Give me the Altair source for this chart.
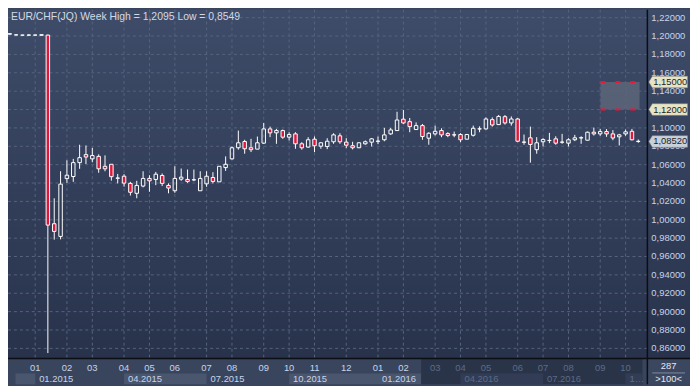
import altair as alt
import pandas as pd

W, H = 645, 352
RP, BP = 43, 26
F = "Liberation Sans"
RED = "#e0163c"
LBL = "#c6d4ec"
DIM = "#5c6b86"
GRID = "#56637d"

opens = [1.2020, 1.2013, 1.2010, 1.2011, 1.2010, 1.2008, 1.2010, 0.9957, 0.9819, 1.0448,
         1.0471, 1.0622, 1.0709, 1.0663, 1.0690, 1.0582, 1.0604, 1.0455, 1.0474, 1.0396,
         1.0288, 1.0367, 1.0450, 1.0439, 1.0482, 1.0374, 1.0316, 1.0442, 1.0439, 1.0436,
         1.0316, 1.0391, 1.0460, 1.0413, 1.0568, 1.0663, 1.0784, 1.0852, 1.0784, 1.0769,
         1.0834, 1.0989, 1.0946, 1.0971, 1.0899, 1.0935, 1.0827, 1.0791, 1.0877, 1.0801,
         1.0798, 1.0849, 1.0914, 1.0845, 1.0806, 1.0784, 1.0827, 1.0845, 1.0856, 1.0871,
         1.0935, 1.0971, 1.1095, 1.1068, 1.0982, 1.1025, 1.0888, 1.0935, 1.0971, 1.0938,
         1.0925, 1.0928, 1.0877, 1.0920, 1.0990, 1.0989, 1.1090, 1.1036, 1.1122, 1.1054,
         1.1097, 1.0846, 1.0892, 1.0763, 1.0849, 1.0864, 1.0881, 1.0846, 1.0834, 1.0871,
         1.0893, 1.0866, 1.0953, 1.0935, 1.0960, 1.0935, 1.0903, 1.0935, 1.0963, 1.0855]
highs = [1.2030, 1.2020, 1.2013, 1.2018, 1.2013, 1.2017, 1.2015, 1.0234, 1.0528, 1.0647,
         1.0663, 1.0817, 1.0809, 1.0782, 1.0712, 1.0701, 1.0604, 1.0499, 1.0496, 1.0413,
         1.0424, 1.0528, 1.0485, 1.0521, 1.0504, 1.0396, 1.0582, 1.0558, 1.0547, 1.0547,
         1.0528, 1.0528, 1.0518, 1.0582, 1.0690, 1.0798, 1.0971, 1.0871, 1.0881, 1.0906,
         1.1054, 1.1014, 1.0989, 1.0982, 1.0953, 1.0953, 1.0845, 1.0899, 1.0906, 1.0845,
         1.0888, 1.0942, 1.0942, 1.0888, 1.0849, 1.0845, 1.0863, 1.0888, 1.0906, 1.1000,
         1.1000, 1.1176, 1.1195, 1.1108, 1.1060, 1.1043, 1.0953, 1.1025, 1.0996, 1.0953,
         1.0960, 1.0942, 1.0935, 1.1025, 1.1017, 1.1114, 1.1114, 1.1140, 1.1140, 1.1125,
         1.1108, 1.0928, 1.1014, 1.0899, 1.0888, 1.0946, 1.0909, 1.0935, 1.0888, 1.0924,
         1.0909, 1.0960, 1.1003, 1.0989, 1.0987, 1.0976, 1.0935, 1.0982, 1.0989, 1.0874]
lows = [1.2016, 1.2007, 1.2008, 1.2005, 1.2008, 1.2006, 0.8549, 0.9784, 0.9787, 1.0402,
        1.0413, 1.0555, 1.0607, 1.0626, 1.0512, 1.0528, 1.0426, 1.0396, 1.0361, 1.0264,
        1.0234, 1.0353, 1.0305, 1.0377, 1.0367, 1.0288, 1.0294, 1.0424, 1.0402, 1.0420,
        1.0316, 1.0359, 1.0396, 1.0413, 1.0532, 1.0655, 1.0763, 1.0719, 1.0737, 1.0769,
        1.0827, 1.0899, 1.0827, 1.0881, 1.0863, 1.0773, 1.0763, 1.0784, 1.0737, 1.0773,
        1.0769, 1.0827, 1.0827, 1.0780, 1.0766, 1.0780, 1.0817, 1.0798, 1.0823, 1.0855,
        1.0924, 1.0971, 1.1043, 1.0953, 1.0978, 1.0871, 1.0817, 1.0917, 1.0899, 1.0899,
        1.0899, 1.0845, 1.0877, 1.0906, 1.0953, 1.0982, 1.1014, 1.1032, 1.1036, 1.1025,
        1.0845, 1.0817, 1.0622, 1.0719, 1.0798, 1.0834, 1.0817, 1.0827, 1.0798, 1.0856,
        1.0827, 1.0863, 1.0917, 1.0914, 1.0903, 1.0866, 1.0809, 1.0914, 1.0863, 1.0838]
closes = [1.2026, 1.2012, 1.2010, 1.2010, 1.2011, 1.2015, 0.9942, 0.9873, 1.0388, 1.0485,
          1.0622, 1.0676, 1.0683, 1.0699, 1.0555, 1.0555, 1.0469, 1.0452, 1.0399, 1.0299,
          1.0374, 1.0450, 1.0424, 1.0496, 1.0396, 1.0345, 1.0450, 1.0464, 1.0417, 1.0434,
          1.0450, 1.0474, 1.0417, 1.0582, 1.0604, 1.0784, 1.0838, 1.0773, 1.0763, 1.0838,
          1.0989, 1.0946, 1.0971, 1.0899, 1.0928, 1.0827, 1.0784, 1.0871, 1.0806, 1.0838,
          1.0855, 1.0924, 1.0849, 1.0812, 1.0784, 1.0838, 1.0849, 1.0881, 1.0854, 1.0924,
          1.0978, 1.1086, 1.1054, 1.1014, 1.1025, 1.0906, 1.0942, 1.0963, 1.0924, 1.0917,
          1.0923, 1.0871, 1.0928, 1.0996, 1.0988, 1.1097, 1.1032, 1.1125, 1.1054, 1.1097,
          1.0855, 1.0844, 1.0820, 1.0838, 1.0874, 1.0862, 1.0834, 1.0844, 1.0871, 1.0892,
          1.0891, 1.0953, 1.0935, 1.0960, 1.0935, 1.0890, 1.0924, 1.0957, 1.0871, 1.0852]

month_idx = [4, 9, 13, 18, 22, 26, 31, 35, 40, 44, 48, 53, 58, 62, 67, 71, 75, 80, 84, 88, 93, 97]
month_lbl = ["01", "02", "03", "04", "05", "06", "07", "08", "09", "10", "11", "12",
             "01", "02", "03", "04", "05", "06", "07", "08", "09", "10"]
quarter_idx = [4, 18, 31, 44, 58, 71, 84]
quarter_lbl = ["01.2015", "04.2015", "07.2015", "10.2015", "01.2016", "04.2016", "07.2016"]
last_quarter_idx = [97]
last_quarter_lbl = ["10.2016"]
y_ticks = [0.86, 0.88, 0.90, 0.92, 0.94, 0.96, 0.98, 1.00, 1.02, 1.04,
           1.06, 1.08, 1.10, 1.12, 1.14, 1.16, 1.18, 1.20, 1.22]
y_tick_lbl = ["0,86000", "0,88000", "0,90000", "0,92000", "0,94000", "0,96000", "0,98000",
              "1,00000", "1,02000", "1,04000", "1,06000", "1,08000", "1,10000", "1,12000",
              "1,14000", "1,16000", "1,18000", "1,20000", "1,22000"]
light_box_start = [0.9, 18, 44, 58]
light_box_end = [4, 31, 58, 64.8]
dark_start, dark_end = [64.8], [99.65]
dim_box_start = [71, 97]
dim_box_end = [84, 99.65]
zone_x = [93.05, 99.2]
zone_y = [1.12, 1.15]
tag_vals = [1.15, 1.12, 1.0852]
tag_lbl = ["1,15000", "1,12000", "1,08520"]
tag_col = ["#e7e4c6", "#e7e4c6", "#c8d0da"]
title_txt = "EUR/CHF(JQ) Week High = 1,2095 Low = 0,8549"

xs = alt.Scale(domain=[0.5, 99.65], nice=False, zero=False)
ys = alt.Scale(domain=[0.84889, 1.22874], nice=False, zero=False)


def X(f):
    return alt.X(f, type="quantitative", scale=xs, axis=None)


def Y(f):
    return alt.Y(f, type="quantitative", scale=ys, axis=None)


one = pd.DataFrame({"a": [0]})
df = pd.DataFrame({"i": list(range(len(opens))), "o": opens, "h": highs, "l": lows, "c": closes})

grad = alt.LinearGradient(gradient="linear",
                          stops=[alt.GradientStop(color="#3e4c69", offset=0),
                                 alt.GradientStop(color="#28324b", offset=1)],
                          x1=0, x2=0, y1=0, y2=1)
bg = alt.Chart(one).mark_rect(fill=grad).encode(
    x=alt.value(0), x2=alt.value(W + RP), y=alt.value(0), y2=alt.value(H))

light = alt.Chart(pd.DataFrame({"a": light_box_start, "b": light_box_end})).mark_rect(
    fill="#4a566d").encode(x=X("a"), x2="b:Q", y=alt.value(H + 15), y2=alt.value(H + BP))
dark = alt.Chart(pd.DataFrame({"a": dark_start, "b": dark_end})).mark_rect(
    fill="#2a3449").encode(x=X("a"), x2="b:Q", y=alt.value(H), y2=alt.value(H + BP))
dimb = alt.Chart(pd.DataFrame({"a": dim_box_start, "b": dim_box_end})).mark_rect(
    fill="#323d55").encode(x=X("a"), x2="b:Q", y=alt.value(H + 15), y2=alt.value(H + BP))

hgrid = alt.Chart(pd.DataFrame({"v": y_ticks})).mark_rule(
    color=GRID, strokeDash=[3, 3], strokeWidth=1).encode(y=Y("v"))
vgrid = alt.Chart(pd.DataFrame({"i": month_idx})).mark_rule(
    color=GRID, strokeDash=[3, 3], strokeWidth=1).encode(x=X("i"))

zdf = pd.DataFrame({"a": [zone_x[0]], "b": [zone_x[1]], "y0": [zone_y[0]], "y1": [zone_y[1]]})
zone = alt.Chart(zdf).mark_rect(fill="#5b6479", opacity=0.9).encode(
    x=X("a"), x2="b:Q", y=Y("y0"), y2="y1:Q")
zl = pd.DataFrame({"a": [zone_x[0]] * 2, "b": [zone_x[1]] * 2, "v": zone_y})
zlines = alt.Chart(zl).mark_rule(color="#ee1432", strokeDash=[5, 10], strokeWidth=2).encode(
    x=X("a"), x2="b:Q", y=Y("v"))

cb = alt.Chart(df).transform_calculate(
    top="max(datum.o, datum.c)", bot="min(datum.o, datum.c)", up="datum.c >= datum.o")
uw = cb.mark_rule(color="white", strokeWidth=1).encode(x=X("i"), y=Y("h"), y2="top:Q")
lw = cb.mark_rule(color="white", strokeWidth=1).encode(x=X("i"), y=Y("bot"), y2="l:Q")
body = cb.mark_bar(size=3.5, stroke="white", strokeWidth=1).encode(
    x=X("i"), y=Y("bot"), y2="top:Q",
    fill=alt.condition("datum.up", alt.value("transparent"), alt.value(RED)))

mlab = alt.Chart(pd.DataFrame({"i": month_idx, "t": month_lbl})).mark_text(
    font=F, fontSize=9.5, baseline="middle", align="center").encode(
    x=X("i"), y=alt.value(H + 9.5), text="t:N",
    color=alt.condition(alt.datum.i > 64.8, alt.value(DIM), alt.value(LBL)))
qlab = alt.Chart(pd.DataFrame({"i": quarter_idx, "t": quarter_lbl})).mark_text(
    font=F, fontSize=9.5, baseline="middle", align="left", dx=4).encode(
    x=X("i"), y=alt.value(H + 20.5), text="t:N",
    color=alt.condition(alt.datum.i > 64.8, alt.value(DIM), alt.value(LBL)))
qlast = alt.Chart(pd.DataFrame({"i": last_quarter_idx, "t": last_quarter_lbl})).mark_text(
    font=F, fontSize=9.5, baseline="middle", align="left", dx=4, limit=20, ellipsis="",
    color=DIM).encode(x=X("i"), y=alt.value(H + 20.5), text="t:N")

corner = alt.Chart(one).mark_rect(fill="#3b475f").encode(
    x=alt.value(W), x2=alt.value(W + RP), y=alt.value(H), y2=alt.value(H + BP))
cline = alt.Chart(one).mark_rule(color="#7f8ca3", strokeWidth=1).encode(
    x=alt.value(W + 5), x2=alt.value(W + 38), y=alt.value(H + 14.5))
ct1 = alt.Chart(pd.DataFrame({"t": ["287"]})).mark_text(
    font=F, fontSize=9.5, color="#e2e8f2", baseline="middle", align="center").encode(
    x=alt.value(W + 21.5), y=alt.value(H + 8), text="t:N")
ct2 = alt.Chart(pd.DataFrame({"t": [">100<"]})).mark_text(
    font=F, fontSize=9.5, color="#e2e8f2", baseline="middle", align="center").encode(
    x=alt.value(W + 21.5), y=alt.value(H + 20.5), text="t:N")

vline = alt.Chart(one).mark_rule(color="#0b0e14", strokeWidth=1.5).encode(
    x=alt.value(W), y=alt.value(0), y2=alt.value(H + BP))
hline = alt.Chart(one).mark_rule(color="#0b0e14", strokeWidth=1.5).encode(
    x=alt.value(0), x2=alt.value(W + RP), y=alt.value(H))

ylab = alt.Chart(pd.DataFrame({"v": y_ticks, "t": y_tick_lbl})).mark_text(
    font=F, fontSize=9.5, color=LBL, align="left", baseline="middle").encode(
    x=alt.value(W + 4), y=Y("v"), text="t:N")

tdf = pd.DataFrame({"v": tag_vals, "t": tag_lbl, "col": tag_col})
tag_shape = "M-1,0L-0.82,-0.3L1,-0.3L1,0.3L-0.82,0.3Z"
tags = alt.Chart(tdf).mark_point(shape=tag_shape, size=1521, filled=True, opacity=1,
                                 stroke="#8d8d82", strokeWidth=0.5).encode(
    x=alt.value(W + 21), y=Y("v"), fill=alt.Fill("col:N", scale=None))
ttext = alt.Chart(tdf).mark_text(font=F, fontSize=9.5, color="#1e1e1e",
                                 align="center", baseline="middle").encode(
    x=alt.value(W + 23), y=Y("v"), text="t:N")

title = alt.Chart(pd.DataFrame({"t": [title_txt]})).mark_text(
    font=F, fontSize=10.5, color="#d3d9e4", align="left", baseline="middle").encode(
    x=alt.value(3), y=alt.value(7), text="t:N")

chart = alt.layer(
    bg, light, dark, dimb, hgrid, vgrid, zone, zlines, uw, lw, body,
    mlab, qlab, qlast, corner, cline, ct1, ct2, vline, hline, ylab, tags, ttext, title
).properties(
    width=W, height=H,
    padding={"left": 0, "top": 0, "right": RP, "bottom": BP},
    autosize=alt.AutoSizeParams(type="none"),
    background="#39455c",
).configure_view(strokeWidth=0)

chart.save("out.html", embed_options={"renderer": "svg", "actions": False})
